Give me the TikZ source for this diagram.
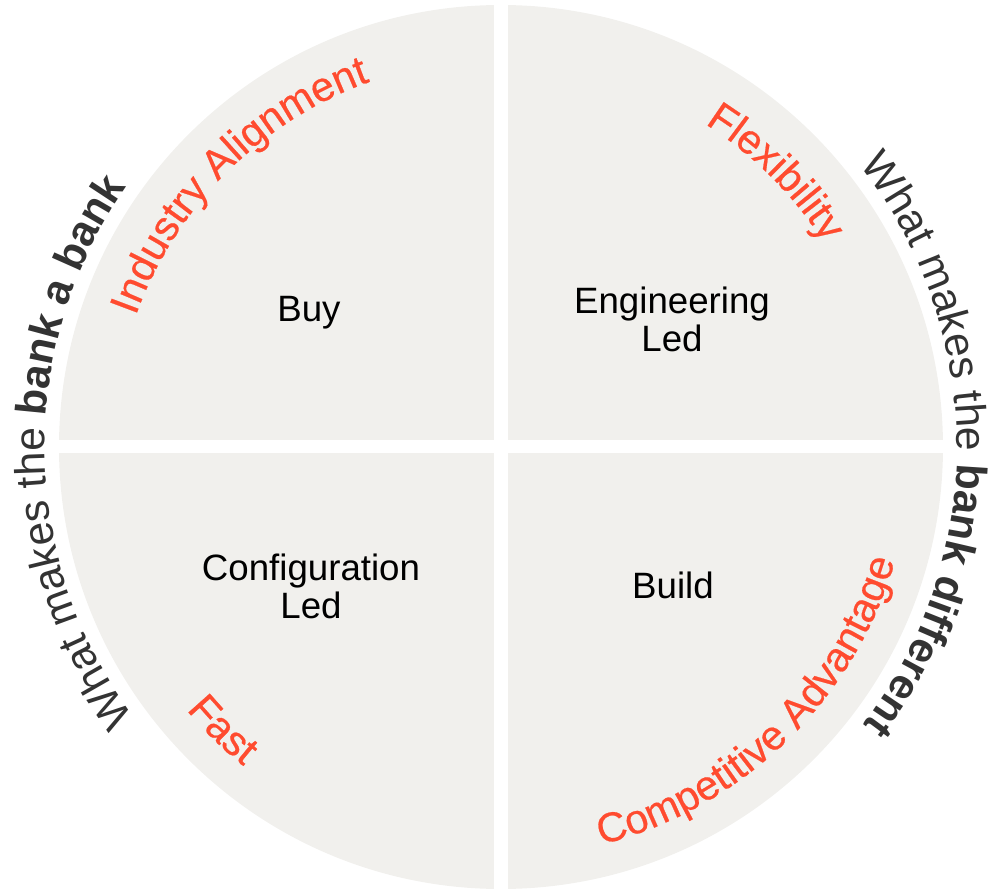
\documentclass[tikz,border=0pt]{standalone}
\usepackage{fontspec}
\setmainfont{Liberation Sans}
\newfontfamily\accentfamily[FakeBold=0.5]{Liberation Sans}
\usepackage{xcolor}
\usetikzlibrary{decorations.text}
\definecolor{quadgray}{HTML}{F1F0ED}
\definecolor{accent}{HTML}{FF4B2F}
\definecolor{darktext}{HTML}{333333}
\newcommand\ringfont{\fontsize{32}{32}\selectfont}
\newcommand\accentfont{\accentfamily\fontsize{31}{31}\selectfont}
\tikzset{
  quadrant/.style = {fill=quadgray, draw=none},
  gap/.style = {fill=white, draw=none},
  core/.style = {align=center, font=\fontsize{27.5}{28.5}\selectfont, text=black},
  arc text/.style = {decorate, decoration={text along path, text align=center, text color=#1}},
  ring text/.style = {arc text=darktext, decoration={text={#1}}},
  accent text/.style = {arc text=accent, decoration={text={#1}}}
}

\begin{document}
\begin{tikzpicture}[x=0.75pt,y=0.75pt]
  \useasboundingbox (-501,-445) rectangle (491,447);

  \fill[quadrant] (0,0) circle[radius=442];
  \fill[gap] (-6.5,-450) rectangle (6.5,450);
  \fill[gap] (-450,-6.5) rectangle (450,6.5);

  \node (buy) at (-192,134) [core] {Buy};
  \node (eng) at (171,128) [core] {Engineering\\Led};
  \node (config) at (-190,-139) [core] {Configuration\\Led};
  \node (build) at (172,-138) [core] {Build};

  % outer ring
  \path[ring text={|\ringfont|What makes the |\ringfont\bfseries|bank a bank}]
    (250.75:456) arc[start angle=250.75, end angle=110.75, radius=456];
  \path[ring text={|\ringfont|What makes the |\ringfont\bfseries|bank different}]
    (70.35:456) arc[start angle=70.35, end angle=-69.65, radius=456];

  % inner ring
  \path[accent text={|\accentfont|Industry Alignment}]
    (175:388) arc[start angle=175, end angle=95, radius=388];
  \path[accent text={|\accentfont|Flexibility}]
    (80:382) arc[start angle=80, end angle=10, radius=382];
  \path[accent text={|\accentfont|Fast}]
    (195.5:410) arc[start angle=195.5, end angle=255.5, radius=410];
  \path[accent text={|\accentfont|Competitive Advantage}]
    (-91:410) arc[start angle=-91, end angle=-1, radius=410];
\end{tikzpicture}
\end{document}
